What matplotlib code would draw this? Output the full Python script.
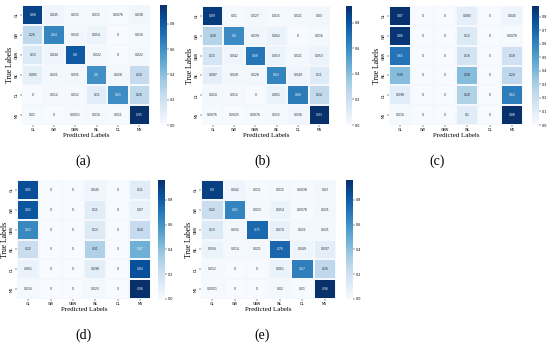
import numpy as np
import matplotlib
matplotlib.use("Agg")
import matplotlib.pyplot as plt
import seaborn as sns

labels = ["GL", "GW", "GBW", "WL", "DL", "MS"]

cm_a = [[0.88, 0.045, 0.015, 0.015, 0.0076, 0.038],
        [0.26, 0.64, 0.032, 0.054, 0, 0.016],
        [0.13, 0.044, 0.80, 0.022, 0, 0.022],
        [0.083, 0.021, 0.031, 0.60, 0.028, 0.24],
        [0, 0.012, 0.012, 0.11, 0.61, 0.26],
        [0.01, 0, 0.0051, 0.016, 0.011, 0.95]]
cm_b = [[0.89, 0.01, 0.027, 0.015, 0.021, 0.03],
        [0.28, 0.6, 0.039, 0.062, 0, 0.016],
        [0.15, 0.042, 0.68, 0.053, 0.021, 0.053],
        [0.087, 0.028, 0.028, 0.63, 0.049, 0.11],
        [0.024, 0.012, 0, 0.061, 0.66, 0.24],
        [0.0076, 0.0025, 0.0076, 0.015, 0.036, 0.93]]
cm_c = [[0.87, 0, 0, 0.083, 0, 0.045],
        [0.86, 0, 0, 0.12, 0, 0.0078],
        [0.65, 0, 0, 0.16, 0, 0.18],
        [0.38, 0, 0, 0.38, 0, 0.24],
        [0.098, 0, 0, 0.28, 0, 0.62],
        [0.016, 0, 0, 0.1, 0, 0.88]]
cm_d = [[0.85, 0, 0, 0.045, 0, 0.11],
        [0.82, 0, 0, 0.11, 0, 0.07],
        [0.63, 0, 0, 0.13, 0, 0.24],
        [0.22, 0, 0, 0.31, 0, 0.47],
        [0.061, 0, 0, 0.098, 0, 0.84],
        [0.016, 0, 0, 0.023, 0, 0.96]]
cm_e = [[0.9, 0.042, 0.011, 0.015, 0.0038, 0.03],
        [0.22, 0.65, 0.023, 0.054, 0.0078, 0.031],
        [0.13, 0.032, 0.75, 0.074, 0.021, 0.021],
        [0.056, 0.014, 0.021, 0.76, 0.049, 0.097],
        [0.012, 0, 0, 0.061, 0.67, 0.26],
        [0.0051, 0, 0, 0.02, 0.01, 0.96]]

panel_names = ["(a)", "(b)", "(c)", "(d)", "(e)"]

W, H = 550, 346
fig = plt.figure(figsize=(W / 100, H / 100), dpi=100)
fig.patch.set_facecolor("white")


def px(x0, y0, x1, y1):
    # pixel box -> figure fraction
    return [x0 / W, 1 - y1 / H, (x1 - x0) / W, (y1 - y0) / H]


# heatmap box, colorbar box, panel label position
layout = [
    ((22, 5, 150, 125), (160, 5, 167, 125), (83, 161)),
    ((202, 6, 330, 125), (346, 6, 352, 125), (262, 161)),
    ((389, 6, 523, 125), (532, 6, 539, 125), (437, 161)),
    ((17, 180, 151, 299), (158, 180, 165, 299), (83, 335)),
    ((201, 180, 336, 299), (346, 180, 353, 299), (262, 335)),
]
cbar_ticks = [np.arange(0, 0.81, 0.2), np.arange(0, 0.81, 0.2), np.arange(0, 0.81, 0.1),
              np.arange(0, 0.81, 0.2), np.arange(0, 0.81, 0.2)]

for cm, name, (hbox, cbox, lpos), ticks in zip([cm_a, cm_b, cm_c, cm_d, cm_e], panel_names, layout, cbar_ticks):
    ax = fig.add_axes(px(*hbox))
    cax = fig.add_axes(px(*cbox))
    sns.heatmap(np.array(cm), ax=ax, cbar_ax=cax, cmap="Blues", annot=True, fmt=".2g",
                annot_kws={"size": 2.2}, xticklabels=labels, yticklabels=labels,
                linewidths=0.25, linecolor="#f4f8fc", cbar_kws={"ticks": ticks})
    ax.tick_params(length=1.2, width=0.3, labelsize=2.4, pad=1)
    ax.set_yticklabels(labels, rotation=90, va="center", fontsize=2.4)
    ax.set_xticklabels(labels, rotation=0, fontsize=2.4)
    ax.set_xlabel("Predicted Labels", family="Liberation Serif", fontsize=5, labelpad=1)
    ax.set_ylabel("True Labels", family="Liberation Serif", fontsize=5.5, labelpad=1)
    cax.tick_params(length=1.2, width=0.3, labelsize=2.4, pad=1)
    cax.set_yticklabels([f"{t:.1f}" for t in ticks])
    fig.text(lpos[0] / W, 1 - lpos[1] / H, name, ha="center", va="center",
             family="Liberation Serif", fontsize=10)

fig.savefig("out.png", dpi=100)
